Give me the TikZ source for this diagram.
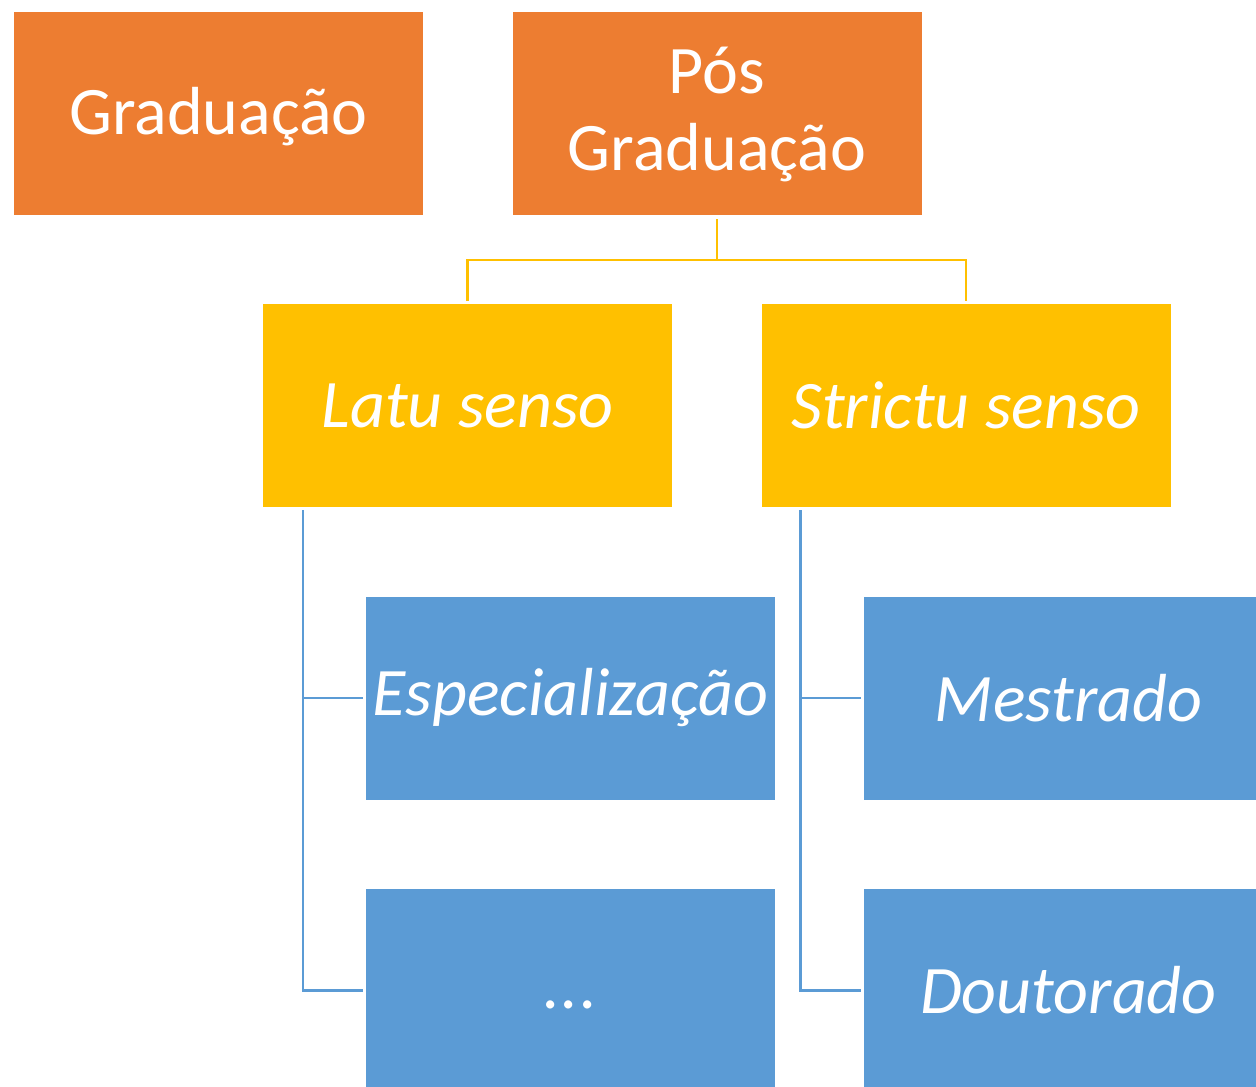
\documentclass[tikz,border=0pt]{standalone}
\usepackage{fontspec}
\setmainfont{Carlito}
\definecolor{orng}{HTML}{ED7D31}
\definecolor{yllw}{HTML}{FFC000}
\definecolor{blu}{HTML}{5B9BD5}
\begin{document}
\begin{tikzpicture}[x=1pt,y=-1pt,
  box/.style={rectangle, minimum width=409pt, minimum height=203pt, inner sep=0pt, outer sep=0pt,
    text=white, font=\fontsize{68}{75}\selectfont, align=center},
  obox/.style={box, fill=orng},
  ybox/.style={box, fill=yllw, font=\fontsize{68}{75}\selectfont\itshape},
  bbox/.style={box, fill=blu, font=\fontsize{68}{75}\selectfont\itshape},
  yline/.style={draw=yllw, line width=2.8pt},
  bline/.style={draw=blu, line width=2.5pt}]
\useasboundingbox (0,0) rectangle (1256,1087);
\clip (0,0) rectangle (1256,1087);
\node[obox] (grad) at (218.5,113.5) {\raisebox{-3pt}[\height][\depth]{Graduação}};
\node[obox] (pos) at (717,113.5) {Pós\\\raisebox{-2pt}[\height][\depth]{Graduação}};
\node[ybox] (latu) at (467.5,405.5) {Latu senso};
\node[ybox] (strictu) at (966,405.5) {Strictu senso};
\node[bbox] (espec) at (570.5,698) {Especialização};
\node[bbox] (dots) at (570.5,990.5) {\vphantom{Especialização}.\kern1pt.\kern1pt.};
\node[bbox] (mest) at (1068.5,698) {Mestrado};
\node[bbox] (dout) at (1068.5,990.5) {Doutorado};
\draw[yline] ([yshift=-4pt]pos.south) -- ++(0,41) -| ([yshift=3pt]latu.north);
\draw[yline] ([yshift=-4pt]pos.south) -- ++(0,41) -| ([yshift=3pt]strictu.north);
\draw[bline] ([xshift=40pt,yshift=-3pt]latu.south west) |- ([xshift=-3pt]espec.west);
\draw[bline] ([xshift=40pt,yshift=-3pt]latu.south west) |- ([xshift=-3pt]dots.west);
\draw[bline] ([xshift=39pt,yshift=-3pt]strictu.south west) |- ([xshift=-3pt]mest.west);
\draw[bline] ([xshift=39pt,yshift=-3pt]strictu.south west) |- ([xshift=-3pt]dout.west);
\end{tikzpicture}
\end{document}
